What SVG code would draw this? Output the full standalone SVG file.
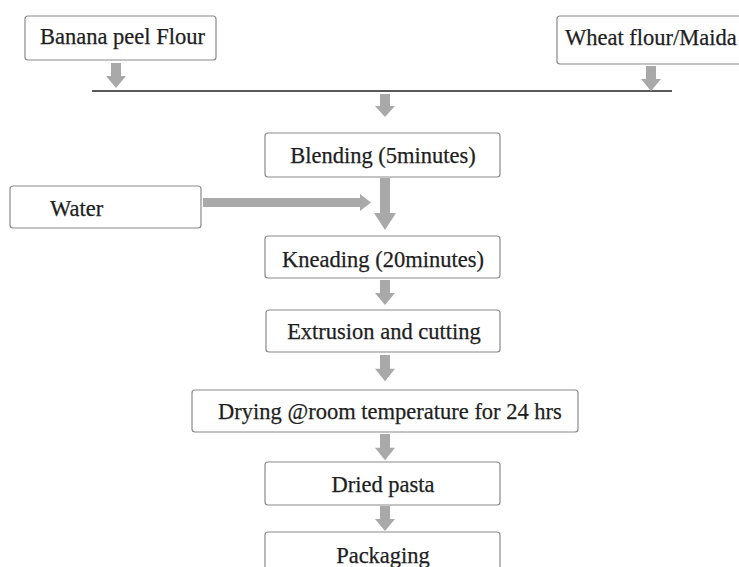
<svg xmlns="http://www.w3.org/2000/svg" width="739" height="567" viewBox="0 0 739 567">
<defs>
<style>
.box{fill:#fff;stroke:#8a8a8a;stroke-width:1.2}
.t{font-family:"Liberation Serif","Times New Roman",serif;font-size:22.5px;fill:#1e1e1e;stroke:#1e1e1e;stroke-width:0.25}
.arr{fill:#a9a9a9}
.line{stroke:#222;stroke-width:1.5}
</style>
<path id="dn" d="M-5,0 H5 V13 H10 L0,25 L-10,13 H-5 Z"/>
</defs>
<rect width="739" height="567" fill="#fff"/>
<g id="connectors">
<line class="line" x1="92" y1="91" x2="672" y2="91"/>
<use href="#dn" class="arr" transform="translate(116,63)"/>
<use href="#dn" class="arr" transform="translate(651,66)"/>
<use href="#dn" class="arr" transform="translate(385,94) scale(1,0.92)"/>
<path class="arr" d="M380,178 H390 V213 H396 L385,230 L374,213 H380 Z"/>
<path class="arr" d="M203,198 H360 V194 L371,202.5 L360,211 V207 H203 Z"/>
<use href="#dn" class="arr" transform="translate(385,280)"/>
<use href="#dn" class="arr" transform="translate(385,355) scale(1,1.05)"/>
<use href="#dn" class="arr" transform="translate(385,434) scale(1,1.05)"/>
<use href="#dn" class="arr" transform="translate(385,506)"/>
</g>
<g id="banana"><rect class="box" x="25" y="16" width="191" height="44" rx="3"/><text class="t" x="40" y="44">Banana peel Flour</text></g>
<g id="wheat"><rect class="box" x="557" y="16" width="190" height="48" rx="3"/><text class="t" x="565" y="45">Wheat flour/Maida</text></g>
<g id="blending"><rect class="box" x="265" y="133" width="235" height="44" rx="3"/><text class="t" x="383" y="163" text-anchor="middle">Blending (5minutes)</text></g>
<g id="water"><rect class="box" x="10" y="186" width="191" height="42" rx="3"/><text class="t" x="50" y="216">Water</text></g>
<g id="kneading"><rect class="box" x="265" y="236" width="235" height="42" rx="3"/><text class="t" x="383" y="267" text-anchor="middle">Kneading (20minutes)</text></g>
<g id="extrusion"><rect class="box" x="266" y="310" width="234" height="42" rx="3"/><text class="t" x="384" y="339" text-anchor="middle">Extrusion and cutting</text></g>
<g id="drying"><rect class="box" x="192" y="390" width="386" height="42" rx="3"/><text class="t" x="390" y="419" text-anchor="middle">Drying @room temperature for 24 hrs</text></g>
<g id="dried"><rect class="box" x="265" y="462" width="235" height="43" rx="3"/><text class="t" x="383" y="492" text-anchor="middle">Dried pasta</text></g>
<g id="packaging"><rect class="box" x="265" y="532" width="235" height="45" rx="3"/><text class="t" x="383" y="563" text-anchor="middle">Packaging</text></g>
</svg>
